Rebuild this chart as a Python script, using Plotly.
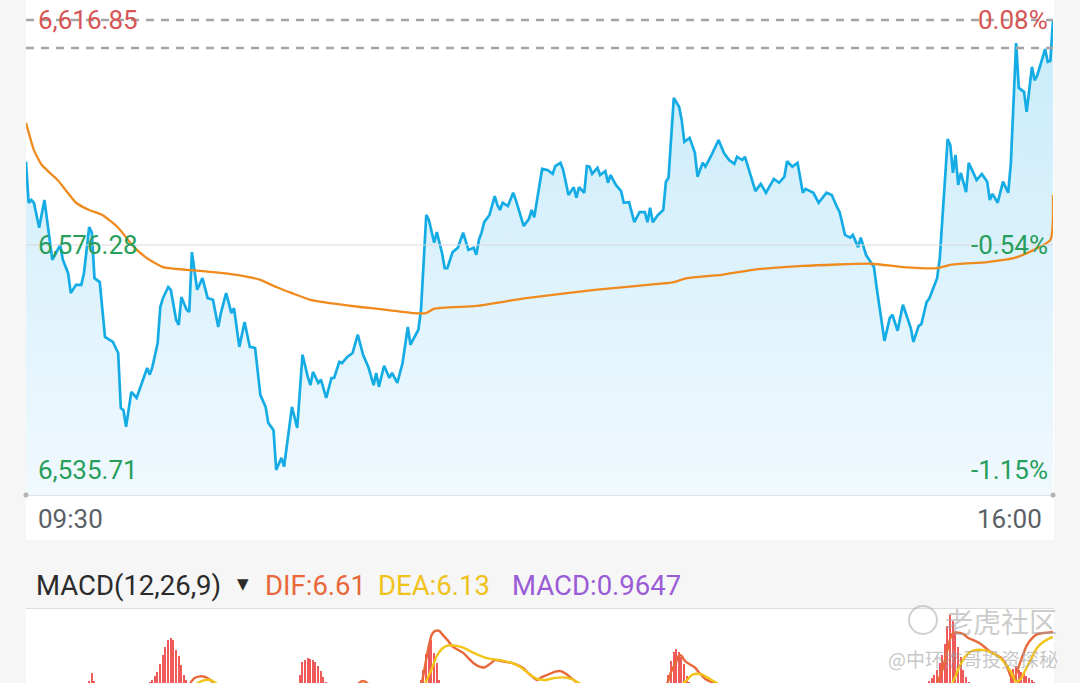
import plotly.graph_objects as go

# ---------------- data ----------------
price_min = [
    0, 1, 2, 3, 5, 7, 9, 10, 12, 13,
    14, 16, 17, 19, 21, 22, 24, 25, 26, 28,
    30, 33, 35, 36, 37, 38, 40, 42, 44, 46,
    47, 48, 50, 51, 52, 54, 55, 57, 58, 59,
    61, 62, 63, 65, 67, 69, 71, 73, 74, 76,
    78, 79, 81, 83, 85, 87, 89, 91, 92, 94,
    95, 97, 98, 100, 101, 103, 105, 107, 108, 109,
    111, 112, 114, 116, 117, 119, 120, 122, 124, 126,
    128, 130, 132, 133, 134, 136, 138, 139, 141, 143,
    145, 146, 149, 150, 152, 153, 155, 156, 158, 159,
    160, 162, 164, 166, 168, 170, 171, 172, 173, 174,
    176, 178, 179, 180, 181, 183, 185, 186, 189, 191,
    192, 193, 196, 198, 200, 201, 203, 204, 206, 208,
    209, 210, 212, 213, 214, 215, 217, 218, 220, 221,
    222, 224, 226, 227, 229, 231, 233, 235, 236, 237,
    238, 240, 242, 243, 244, 246, 248, 249, 250, 252,
    254, 255, 257, 258, 260, 263, 265, 267, 269, 270,
    272, 273, 275, 277, 279, 281, 284, 286, 288, 289,
    291, 293, 295, 296, 299, 301, 304, 306, 308, 309,
    311, 313, 314, 316, 317, 319, 322, 323, 326, 328,
    329, 331, 333, 334, 336, 337, 339, 340, 342, 343,
    346, 347, 350, 351, 352, 353, 354, 355, 357, 358,
    361, 363, 365, 366, 367, 369, 371, 373, 374, 376,
    377, 379, 380, 382, 383, 384, 387, 388, 389, 390,
]
price_val = [
    6591.3, 6583.9, 6584.4, 6583.9, 6579.4, 6584.4, 6577.2, 6573.6, 6575.4, 6576.3,
    6573.6, 6571.2, 6567.6, 6569.1, 6569.1, 6571.2, 6579.5, 6578.5, 6570.3, 6569.6,
    6559.7, 6558.8, 6556.8, 6546.9, 6546.5, 6543.5, 6549.8, 6548.7, 6551.4, 6554.1,
    6552.9, 6554.3, 6558.6, 6565.1, 6566.7, 6568.7, 6568.2, 6562.8, 6561.9, 6566.9,
    6564.6, 6564.2, 6575.0, 6568.2, 6570.3, 6566.7, 6566.4, 6561.5, 6564.0, 6567.6,
    6564.0, 6564.9, 6557.9, 6562.4, 6557.9, 6557.7, 6549.2, 6547.1, 6544.2, 6542.9,
    6535.71, 6537.9, 6536.3, 6542.9, 6547.1, 6543.3, 6556.5, 6552.5, 6551.0, 6553.4,
    6551.4, 6552.0, 6548.7, 6552.3, 6552.3, 6555.2, 6555.0, 6556.1, 6556.8, 6560.1,
    6556.5, 6554.3, 6551.0, 6553.2, 6550.7, 6554.5, 6552.3, 6553.2, 6551.4, 6555.0,
    6561.5, 6558.3, 6561.0, 6564.6, 6581.7, 6580.8, 6576.7, 6578.6, 6574.8, 6572.1,
    6572.1, 6575.0, 6575.8, 6578.5, 6575.4, 6575.8, 6574.5, 6577.2, 6578.5, 6580.4,
    6581.7, 6585.1, 6583.5, 6582.6, 6583.9, 6583.3, 6585.7, 6584.4, 6579.7, 6581.0,
    6582.6, 6581.3, 6590.0, 6589.8, 6589.1, 6590.5, 6591.1, 6589.8, 6585.3, 6586.7,
    6584.8, 6586.7, 6585.7, 6590.5, 6590.4, 6589.1, 6590.2, 6588.9, 6589.6, 6587.5,
    6588.9, 6587.1, 6586.0, 6583.9, 6584.0, 6580.4, 6582.2, 6582.2, 6580.4, 6583.0,
    6580.4, 6581.7, 6582.6, 6587.7, 6588.4, 6602.8, 6601.2, 6598.8, 6594.9, 6595.6,
    6592.9, 6588.6, 6591.1, 6590.4, 6592.2, 6595.2, 6592.9, 6591.6, 6590.9, 6592.2,
    6591.6, 6592.2, 6589.3, 6586.0, 6587.3, 6585.7, 6588.2, 6587.5, 6588.6, 6591.4,
    6590.4, 6591.1, 6585.7, 6586.4, 6585.7, 6583.9, 6585.7, 6585.3, 6583.1, 6582.2,
    6578.1, 6577.6, 6578.1, 6575.9, 6577.6, 6574.5, 6572.3, 6568.7, 6559.0, 6563.1,
    6563.7, 6560.8, 6565.5, 6564.0, 6561.3, 6558.8, 6561.7, 6562.0, 6566.0, 6566.6,
    6570.3, 6573.9, 6595.4, 6594.3, 6589.3, 6592.5, 6587.1, 6589.3, 6585.8, 6591.1,
    6588.0, 6589.1, 6587.7, 6584.4, 6585.5, 6583.9, 6587.7, 6585.7, 6591.1, 6612.7,
    6604.6, 6603.9, 6600.3, 6608.4, 6606.0, 6606.8, 6611.6, 6609.3, 6609.5, 6616.85,
]

avg_min = [0, 3, 6, 12, 19, 24, 29, 35, 41, 46,
           52, 61, 71, 80, 89, 95, 101, 108, 117, 127,
           137, 147, 152, 155, 171, 190, 216, 241, 246, 251,
           264, 276, 295, 321, 333, 346, 351, 365, 375, 380,
           389, 390]
avg_val = [6598.3, 6593.4, 6590.7, 6588.0, 6583.9, 6582.6, 6581.7, 6579.4, 6575.9, 6573.9,
           6572.3, 6571.8, 6571.4, 6570.9, 6570.0, 6568.7, 6567.6, 6566.4, 6565.7, 6565.1,
           6564.6, 6564.0, 6564.0, 6564.8, 6565.3, 6566.7, 6568.2, 6569.3, 6569.6, 6570.3,
           6570.9, 6571.8, 6572.5, 6572.9, 6572.3, 6572.1, 6572.7, 6573.2, 6573.9, 6574.8,
           6577.2, 6585.3]

prev_close = 6611.8
level_values = [6616.85, 6576.28, 6535.71]
time_labels = ["09:30", "16:00"]

hist_min = [22, 23, 24, 25, 26, 27,
            46, 47, 48, 49, 50, 51, 52, 53, 54, 55, 56, 57, 58, 59, 60, 61, 62,
            104, 105, 106, 107, 108, 109, 110, 111, 112, 113, 114,
            150, 151, 152, 153, 154, 155, 156, 157,
            244, 245, 246, 247, 248, 249, 250, 251, 252,
            343, 344, 345, 346, 347, 348, 349, 350, 351, 352, 353, 354, 355, 356, 357, 358,
            374, 375, 376, 377, 378, 379, 380, 381, 382, 383]
hist_val = [1.2, 1.5, 1.9, 2.7, 1.9, 1.4,
            1.5, 1.8, 2.0, 2.4, 2.8, 3.5, 4.4, 5.2, 5.8, 6.0, 5.8, 4.9, 4.3, 3.4, 2.5, 2.0, 1.5,
            2.5, 3.7, 3.9, 4.1, 4.0, 3.9, 3.7, 3.3, 2.9, 2.3, 1.8,
            2.0, 3.0, 4.5, 5.4, 5.8, 4.6, 3.6, 2.0,
            2.5, 3.8, 4.7, 4.95, 4.7, 4.2, 3.5, 2.4, 1.8,
            1.9, 2.2, 2.5, 3.0, 3.6, 4.4, 5.5, 7.2, 8.2, 7.7, 6.5, 5.2, 4.2, 3.0, 2.3, 1.8,
            2.5, 3.1, 3.3, 3.0, 2.8, 2.6, 2.4, 2.2, 2.0, 1.8]

dif_min = [0, 61, 62, 64, 66, 68, 70, 72, 74,
           124, 126, 128, 130, 132,
           148, 150, 151, 152, 153, 154, 155, 156, 157, 158,
           160, 162, 164, 166, 168, 170, 172, 174, 176, 178,
           180, 182, 185, 187, 189, 191, 194, 196, 198, 201,
           203, 205, 207, 209, 212, 214,
           241, 244, 245, 246, 247, 248, 249, 250, 252, 254,
           256, 258, 261, 264, 266,
           344, 346, 348, 350, 351, 352, 354, 356, 358, 360,
           362, 364, 366, 368, 370, 372, 374, 375, 376, 378,
           380, 382, 384, 386, 388, 390]
dif_val = [0.5, 0.8, 1.5, 2.2, 2.35, 2.3, 2.0, 1.5, 0.8,
           0.8, 1.6, 1.9, 1.6, 0.8,
           0.8, 1.5, 2.6, 4.0, 5.3, 6.3, 6.65, 6.75, 6.7, 6.4,
           5.85, 5.2, 4.9, 4.6, 4.1, 3.6, 3.3, 3.2, 3.5, 3.9,
           3.85, 3.75, 3.6, 3.4, 3.1, 2.6, 2.0, 2.3, 2.5, 2.8,
           2.85, 2.6, 2.2, 1.8, 1.0, 0.5,
           0.5, 2.0, 2.8, 3.3, 3.8, 4.4, 4.3, 3.9, 3.5, 3.2,
           2.6, 2.1, 1.7, 1.2, 0.5,
           0.5, 1.7, 3.0, 5.0, 6.0, 6.5, 6.55, 6.4, 6.0, 5.8,
           5.55, 5.17, 4.75, 4.45, 4.2, 3.6, 2.3, 2.0, 2.6, 4.0,
           5.3, 6.0, 6.4, 6.5, 6.55, 6.61]

dea_min = [0, 62, 64, 66, 68, 70, 72, 74, 76,
           126, 128, 130, 132,
           150, 152, 154, 156, 158, 160, 163, 166, 170, 175,
           180, 185, 188, 191, 194, 197, 201, 204, 207, 210,
           214, 216,
           247, 249, 251, 253, 255, 257, 259, 262, 265, 267,
           348, 350, 352, 354, 356, 358, 360, 362, 364, 366,
           368, 370, 372, 374, 376, 378, 380, 382, 384, 386,
           388, 390]
dea_val = [0.5, 0.8, 1.5, 1.8, 2.0, 2.0, 1.7, 1.3, 0.8,
           0.8, 0.8, 0.8, 0.8,
           1.0, 1.9, 3.0, 4.3, 5.0, 5.3, 5.3, 5.1, 4.6, 4.1,
           3.9, 3.6, 3.2, 2.6, 2.1, 2.0, 2.2, 2.25, 2.1, 1.7,
           1.2, 0.5,
           0.5, 1.5, 2.0, 2.5, 2.6, 2.5, 2.2, 1.75, 1.3, 0.5,
           0.5, 1.0, 1.8, 3.0, 4.0, 4.6, 4.85, 4.9, 4.85, 4.7,
           4.45, 4.1, 3.5, 2.8, 1.8, 2.2, 3.2, 4.2, 5.1, 5.6,
           5.9, 6.13]

macd_params = "MACD(12,26,9)"
dif_last, dea_last, macd_last = 6.61, 6.13, 0.9647

# ---------------- layout helpers ----------------
W, H = 1080, 683
def px(x):
    return x / W
def py(y):
    return 1 - y / H

X0, X1 = px(26), px(1053)
PRICE_RANGE = [6531.2, 6620.46]
MACD_RANGE = [1.71, 8.72]
FONT = "Roboto"
RED, GREEN = "#d65555", "#279e5b"

fig = go.Figure()

fig.add_trace(go.Scatter(
    x=price_min, y=price_val, mode="lines",
    line=dict(color="#15ace6", width=2.7),
    fill="tozeroy",
    fillgradient=dict(type="vertical",
                      colorscale=[[0, "rgb(240,249,254)"], [1, "rgb(200,235,250)"]],
                      start=PRICE_RANGE[0], stop=max(price_val)),
    xaxis="x", yaxis="y", hoverinfo="skip"))

fig.add_trace(go.Scatter(
    x=avg_min, y=avg_val, mode="lines",
    line=dict(color="#ee8a1e", width=2.3, shape="spline", smoothing=0.5),
    xaxis="x", yaxis="y", hoverinfo="skip"))

fig.add_trace(go.Bar(
    x=hist_min, y=hist_val, width=0.55,
    marker=dict(color="#ef5a5a", line=dict(width=0)),
    xaxis="x2", yaxis="y2", hoverinfo="skip"))

fig.add_trace(go.Scatter(
    x=dif_min, y=dif_val, mode="lines",
    line=dict(color="#e8683a", width=2.4, shape="spline", smoothing=0.6),
    xaxis="x2", yaxis="y2", hoverinfo="skip"))

fig.add_trace(go.Scatter(
    x=dea_min, y=dea_val, mode="lines",
    line=dict(color="#f2c419", width=2.4, shape="spline", smoothing=0.6),
    xaxis="x2", yaxis="y2", hoverinfo="skip"))

shapes = [
    dict(type="rect", xref="paper", yref="paper", x0=px(26), x1=px(1054), y0=py(540), y1=1,
         fillcolor="white", line=dict(width=0), layer="below"),
    dict(type="rect", xref="paper", yref="paper", x0=px(26), x1=px(1054), y0=0, y1=py(609),
         fillcolor="white", line=dict(width=0), layer="below"),
    dict(type="line", xref="paper", yref="paper", x0=px(26), x1=px(1054), y0=py(608.5), y1=py(608.5),
         line=dict(color="#dcdcdc", width=1)),
    dict(type="line", xref="x", yref="y", x0=0, x1=390, y0=level_values[0], y1=level_values[0],
         line=dict(color="#a4a4a4", width=2.5, dash="8px,7px")),
    dict(type="line", xref="x", yref="y", x0=0, x1=390, y0=prev_close, y1=prev_close,
         line=dict(color="#a4a4a4", width=2.5, dash="8px,7px")),
    dict(type="line", xref="x", yref="y", x0=0, x1=390, y0=level_values[1], y1=level_values[1],
         line=dict(color="#d9d9d9", width=1)),
    dict(type="circle", xref="paper", yref="paper", x0=px(23.5), x1=px(28.5), y0=py(497.5), y1=py(492.5),
         fillcolor="#b4b4b4", line=dict(width=0)),
    dict(type="circle", xref="paper", yref="paper", x0=px(1050.5), x1=px(1055.5), y0=py(497.5), y1=py(492.5),
         fillcolor="#b4b4b4", line=dict(width=0)),
    dict(type="circle", xref="paper", yref="paper", x0=px(909), x1=px(937), y0=py(634), y1=py(606),
         line=dict(color="rgba(170,170,170,0.55)", width=2)),
]

annotations = []
for i, v in enumerate(level_values):
    col = RED if v > prev_close else GREEN
    pct = (v / prev_close - 1) * 100
    annotations.append(dict(xref="paper", yref="y", x=px(36), y=v, xanchor="left", yanchor="middle",
                            text=f"{v:,.2f}", showarrow=False, font=dict(family=FONT, size=26, color=col)))
    annotations.append(dict(xref="paper", yref="y", x=px(1050), y=v, xanchor="right", yanchor="middle",
                            text=f"{pct:.2f}%", showarrow=False, font=dict(family=FONT, size=26, color=col)))

annotations.append(dict(xref="paper", yref="paper", x=px(36), y=py(519), xanchor="left", yanchor="middle",
                        text=time_labels[0], showarrow=False, font=dict(family=FONT, size=26, color="#5b5f66")))
annotations.append(dict(xref="paper", yref="paper", x=px(1044), y=py(519), xanchor="right", yanchor="middle",
                        text=time_labels[1], showarrow=False, font=dict(family=FONT, size=26, color="#5b5f66")))

hy = py(585)
HS = 27.5
annotations += [
    dict(xref="paper", yref="paper", x=px(34), y=hy, xanchor="left", yanchor="middle", showarrow=False,
         text=macd_params, font=dict(family=FONT, size=HS, color="#2b2b2b")),
    dict(xref="paper", yref="paper", x=px(243), y=py(584), xanchor="center", yanchor="middle", showarrow=False,
         text="▼", font=dict(family="DejaVu Sans", size=15, color="#2b2b2b")),
    dict(xref="paper", yref="paper", x=px(263), y=hy, xanchor="left", yanchor="middle", showarrow=False,
         text=f"DIF:{dif_last:.2f}", font=dict(family=FONT, size=HS, color="#e8683a")),
    dict(xref="paper", yref="paper", x=px(376), y=hy, xanchor="left", yanchor="middle", showarrow=False,
         text=f"DEA:{dea_last:.2f}", font=dict(family=FONT, size=HS, color="#efc21c")),
    dict(xref="paper", yref="paper", x=px(510), y=hy, xanchor="left", yanchor="middle", showarrow=False,
         text=f"MACD:{macd_last:.4f}", font=dict(family=FONT, size=HS, color="#9a5cd6")),
    dict(xref="paper", yref="paper", x=px(1059), y=py(621), xanchor="right", yanchor="middle", showarrow=False,
         text="老虎社区", font=dict(family="Noto Sans CJK SC", size=28, color="rgba(160,160,160,0.55)")),
    dict(xref="paper", yref="paper", x=px(1060), y=py(658), xanchor="right", yanchor="middle", showarrow=False,
         text="@中环杰哥投资探秘", font=dict(family="Noto Sans CJK SC", size=19, color="rgba(160,160,160,0.6)")),
]

axis_common = dict(showgrid=False, zeroline=False, showticklabels=False, ticks="", fixedrange=True)

fig.update_layout(
    width=W, height=H,
    margin=dict(l=0, r=0, t=0, b=0),
    paper_bgcolor="#f6f6f6",
    plot_bgcolor="rgba(0,0,0,0)",
    showlegend=False,
    bargap=0,
    xaxis=dict(domain=[X0, X1], range=[0, 390], anchor="y", showline=True, linecolor="#e2e2e2",
               linewidth=1, **axis_common),
    yaxis=dict(domain=[py(495), 1], range=PRICE_RANGE, anchor="x", showline=False, **axis_common),
    xaxis2=dict(domain=[X0, X1], range=[0, 390], anchor="y2", showline=False, **axis_common),
    yaxis2=dict(domain=[0, py(610)], range=MACD_RANGE, anchor="x2", showline=False, **axis_common),
    shapes=shapes,
    annotations=annotations,
)

fig.write_html(
    "out.html",
    config={"displayModeBar": False},
    post_script="document.body.style.margin='0';document.body.style.overflow='hidden';",
)
